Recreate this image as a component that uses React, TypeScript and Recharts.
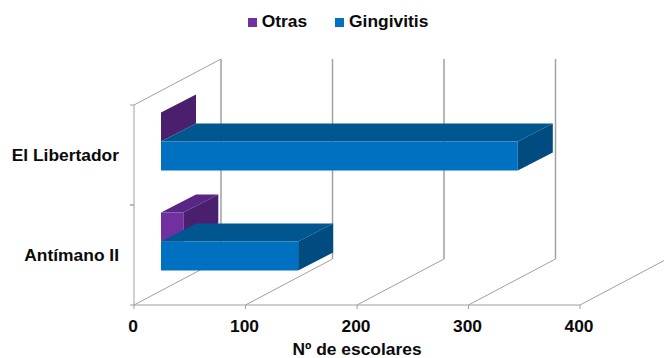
import React from "react";
import { BarChart, Bar, XAxis, YAxis, CartesianGrid, Legend } from "recharts";

const categories = ["El Libertador", "Antímano II"];
const otras = [0, 20];
const gingivitis = [320, 123];
const valueTicks = [0, 100, 200, 300, 400];

const rows = categories.map((name, i) => ({ name, Otras: otras[i], Gingivitis: gingivitis[i] }));

const FONT = "'Liberation Sans', Arial, sans-serif";
const GREY = "#a0a0a0";
const INK = "#0a0a0a";
const TEXT_SIZE = 17.4;

// Oblique projection of the chart box: wall depth, and where bars sit inside it.
const WALL_DX = 87;
const WALL_DY = 46;
const BAR_DX = 27;
const BAR_DY = 14;
const BAR_DEPTH_X = 35;
const BAR_DEPTH_Y = 18;

const poly = (pts: number[][]) => pts.map((p) => p.join(",")).join(" ");

function bar3d(front: string, top: string, side: string) {
  return (props: any) => {
    const x = props.x + BAR_DX;
    const y = props.y - BAR_DY;
    const w = props.width;
    const h = props.height;
    const dx = BAR_DEPTH_X;
    const dy = BAR_DEPTH_Y;
    return (
      <g>
        <polygon fill={top} points={poly([[x, y], [x + w, y], [x + w + dx, y - dy], [x + dx, y - dy]])} />
        <polygon fill={side} points={poly([[x + w, y], [x + w + dx, y - dy], [x + w + dx, y + h - dy], [x + w, y + h]])} />
        {w > 0 && <rect x={x} y={y} width={w} height={h} fill={front} />}
      </g>
    );
  };
}

// Each value gridline runs back across the floor, then climbs the rear wall.
function WallLine(props: any) {
  const { x1, y1, y2, index } = props;
  const bx = x1 + WALL_DX;
  const by = y2 - WALL_DY;
  return (
    <g fill="none" stroke={GREY}>
      <line x1={x1} y1={y2} x2={bx} y2={by} strokeWidth={1} />
      <line x1={bx} y1={by} x2={bx} y2={y1 - WALL_DY} strokeWidth={1.5} />
      {index === 0 && <line x1={x1} y1={y1} x2={bx} y2={y1 - WALL_DY} strokeWidth={1} />}
    </g>
  );
}

function CategoryTick(props: any) {
  const { x, y, payload } = props;
  const half = 50;
  return (
    <g>
      <line x1={x + 11} x2={x + 15} y1={y - half} y2={y - half} stroke={GREY} />
      <line x1={x + 11} x2={x + 15} y1={y + half} y2={y + half} stroke={GREY} />
      <text x={x} y={y + 6} textAnchor="end" fontFamily={FONT} fontWeight={700} fontSize={TEXT_SIZE} fill={INK}>
        {payload.value}
      </text>
    </g>
  );
}

function ValueTick(props: any) {
  const { x, y, payload } = props;
  return (
    <text x={x - 1} y={y + 21} textAnchor="middle" fontFamily={FONT} fontWeight={700} fontSize={TEXT_SIZE} fill={INK}>
      {payload.value}
    </text>
  );
}

export default function App() {
  return (
    <div style={{ position: "absolute", left: 0, top: 0, width: 664, height: 358, background: "#fff" }}>
      <BarChart
        width={664}
        height={358}
        data={rows}
        layout="vertical"
        barGap={0}
        barCategoryGap={21.5}
        margin={{ top: 81, right: 84, bottom: 0, left: 0 }}
      >
        <CartesianGrid horizontal={false} vertical={WallLine as any} />
        <XAxis
          type="number"
          domain={[0, 400]}
          ticks={valueTicks}
          height={53}
          tickSize={4}
          axisLine={{ stroke: GREY }}
          tickLine={{ stroke: GREY }}
          tick={ValueTick as any}
          label={{
            value: "Nº de escolares",
            position: "insideBottom",
            offset: 3,
            fontFamily: FONT,
            fontWeight: 700,
            fontSize: TEXT_SIZE,
            fill: INK,
          }}
        />
        <YAxis
          type="category"
          dataKey="name"
          width={134}
          axisLine={{ stroke: GREY }}
          tickLine={false}
          tickMargin={0}
          tickSize={15}
          tick={CategoryTick as any}
        />
        <Legend
          verticalAlign="top"
          height={24}
          iconType="square"
          iconSize={9}
          itemSorter={null as any}
          wrapperStyle={{ top: 11, left: 11, width: 664, fontFamily: FONT, fontWeight: 700, fontSize: TEXT_SIZE }}
          formatter={(value: string) => (
            <span style={{ color: INK, marginLeft: 1, marginRight: value === "Otras" ? 18 : 0 }}>{value}</span>
          )}
        />
        <Bar dataKey="Otras" fill="#7030a0" isAnimationActive={false} shape={bar3d("#7030a0", "#582685", "#4a1f6e")} />
        <Bar dataKey="Gingivitis" fill="#0070c0" isAnimationActive={false} shape={bar3d("#0070c0", "#00568f", "#004c80")} />
      </BarChart>
    </div>
  );
}
